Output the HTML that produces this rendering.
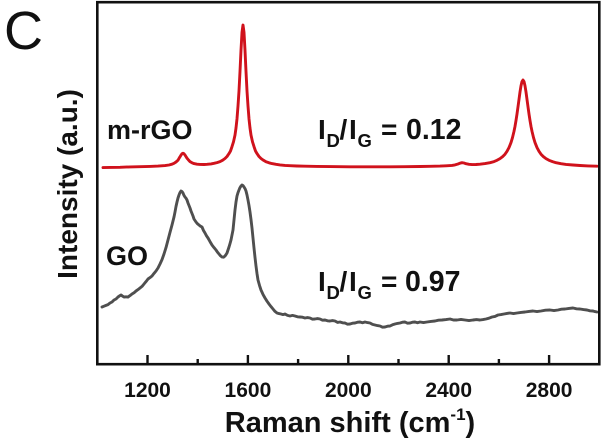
<!DOCTYPE html>
<html>
<head>
<meta charset="utf-8">
<style>
  html, body { margin: 0; padding: 0; background: #ffffff; }
  body { width: 602px; height: 444px; overflow: hidden; }
  svg { display: block; }
  text { font-family: "Liberation Sans", Arial, sans-serif; fill: #111; }
</style>
</head>
<body>
<svg width="602" height="444" viewBox="0 0 602 444" xmlns="http://www.w3.org/2000/svg">
  <rect x="0" y="0" width="602" height="444" fill="#ffffff"/>

  <!-- Panel letter -->
  <text x="4" y="49" font-size="54" font-weight="400">C</text>

  <!-- GO spectrum (gray) -->
  <polyline fill="none" stroke="#4f4f4f" stroke-width="2.9" stroke-linejoin="round" stroke-linecap="round"
    points="102,307 104,306.2 106,305.4 108,304.6 110,303 112,302 114,300 116,299 118,297 120,295.6 121,295 123,296.4 124,297 126,296.8 128,297 130,295.6 132,294 134,292.8 136,291 138,289.6 140,288 142,286.4 144,284 146,281.6 148,279 150,277.6 152,276 154,273.4 156,271 158,268 160,264 162,259.6 164,254 166,247.6 168,240 170,232.4 172,225 174,217 175,212 176,206.5 177,202 178,198 179,195 180,192.5 181,191 182,191.6 183,193 184,195.4 185,197 186,198.2 187,200 188,203 190,208 191,211 193,216 194,219 196,222 197.5,223.8 199,225 200.5,226.2 202,227 203.5,230.5 205,233 206.5,235.8 208,238 210,241.6 212,245 214,247.6 216,250 217.5,252.2 219,254 220.5,255.8 222,257 223.5,257.2 225,256 226,254.6 227,253 228,250 229,247 230,243.6 231,240 232,235 233,230 234,220 235,210 236,202 237,196 238,192.6 239,190 240,187.6 241,186 242,185 243,185.6 244,187 245,188.6 246,191 247,195 248,200 249,205.5 250,212 251,219.5 252,228 253,238 254,248 255,257.4 256,266 257,273.6 258,280 259.5,285.4 261,290 263,294.4 265,298 267,301.2 269,304 271,306.6 273,309 275,311.4 277,313 279,313.6 281,314 283,314.6 285,314 287.5,315.4 290,316 292.5,315.4 295,316 297.5,316.8 300,317 302.5,317.2 305,318 307.5,317.6 310,318 312.5,319.2 315,319 317.5,318.6 320,319 322.5,320.2 325,320 327.5,320.8 330,321 332.5,320.6 335,321 337.5,322.4 340,322 342.5,322.8 345,323 347.5,324.2 350,324 352.5,323.2 355,323 357.5,322.2 360,322 362.5,322.8 365,322 367.5,322.6 370,323 372.5,324.4 375,325 377.5,325.6 380,326 382.5,327.2 385,327 387.5,326.2 390,326 392.5,324.8 395,324 397.5,323.4 400,323 402.5,322.2 405,322 407.5,323.2 410,323 412.5,322.2 415,322 417.5,322.8 420,322 423.5,322.6 427,322 431,321.4 435,321 438.5,320.2 442,320 446,319.6 450,319 453.5,320 457,320 461,319.4 465,320 469,320.6 473,320 476.5,319.6 480,320 483,319.6 486,319 489,318.2 492,317 495,316.4 498,315 501,314.6 504,314 507,313.4 510,313 513.5,313.6 517,313 521,312.4 525,312 529,311.4 533,311 537,311.6 541,311 545.5,310.2 550,310 554,310.6 558,310 561.5,309.2 565,309 569,308.4 573,308 576.5,308.8 580,309 583.5,309.6 587,310 590,310.8 593,311 595,311.6 597,312"/>

  <!-- m-rGO spectrum (red) -->
  <polyline fill="none" stroke="#d0121c" stroke-width="2.9" stroke-linejoin="round" stroke-linecap="round"
    points="103,167.6 110,167.4 120,167.3 130,166.9 140,166.7 150,166.4 158,166.1 165,165.6 169,165 172,164.2 174,163.3 176,162 178,160.2 179,158.4 180,156.8 181,155.1 182,153.8 183,153.2 184,153.8 185,155 186,156.6 187,158.2 188.5,160 190,161.6 192,162.8 194,163.6 197,164.2 200,164.4 204,164.5 207,164.3 211,163.9 214,163.3 217,162.6 220,161.6 222.5,160.3 225,158.5 227,156.5 229,153.6 230.5,151 232,146.6 233.5,141.8 235,135.1 236,128 237,118.8 238,106 239,90.9 240,71.5 241,50.2 242,32.3 243,25 244,32.3 245,50.2 246,71.5 247,90.9 248,106 249,118.8 250,128 251,135.1 252.5,141.8 254,146.6 255.5,151 257,153.6 259,156.5 261,158.5 263.5,160.3 266,161.8 269,162.8 272,163.6 276,164.3 280,164.9 285,165.4 290,165.7 297,166 305,166.2 317,166.4 330,166.6 350,166.8 370,166.8 390,166.8 405,166.7 420,166.5 430,166.3 440,166.1 446,165.8 452,165.4 455,164.9 458,164 460,163.2 462,162.7 464,163 466,163.7 469,164.3 472,164.6 476,164.5 480,164.2 485,163.6 490,162.7 494,161.6 497,160.3 500,158.6 503,156.3 505,154.2 507,151.3 509,147.6 511,142.6 512.5,137.6 514,131.3 515,126.4 516,120.5 517,114 518,106.8 519,99.4 520,92 521,85.8 522,81.5 523,80 524,81.5 525,85.8 526,92 527,99.4 528,106.8 529,114 530,120.5 531,126.4 532,131.3 533.5,137.6 535,142.6 537,147.6 539,151.3 541,154.2 543,156.3 546,158.6 549,160.3 552.5,161.6 556,162.7 561,163.7 566,164.4 573,165 580,165.5 588,165.9 597,166.2"/>

  <!-- Axes frame -->
  <rect x="97.3" y="2.2" width="502" height="362" fill="none" stroke="#111" stroke-width="2.6"/>

  <!-- Ticks (inward) -->
  <g stroke="#111" stroke-width="2.4">
    <line x1="147.5" y1="364" x2="147.5" y2="355"/>
    <line x1="197.7" y1="364" x2="197.7" y2="359"/>
    <line x1="247.9" y1="364" x2="247.9" y2="355"/>
    <line x1="298.1" y1="364" x2="298.1" y2="359"/>
    <line x1="348.3" y1="364" x2="348.3" y2="355"/>
    <line x1="398.5" y1="364" x2="398.5" y2="359"/>
    <line x1="448.7" y1="364" x2="448.7" y2="355"/>
    <line x1="498.9" y1="364" x2="498.9" y2="359"/>
    <line x1="549.1" y1="364" x2="549.1" y2="355"/>
  </g>

  <!-- Tick labels -->
  <g font-size="21" font-weight="700" text-anchor="middle">
    <text x="147.5" y="397">1200</text>
    <text x="247.9" y="397">1600</text>
    <text x="348.3" y="397">2000</text>
    <text x="448.7" y="397">2400</text>
    <text x="549.1" y="397">2800</text>
  </g>

  <!-- X axis title -->
  <text x="350" y="432" font-size="29" font-weight="700" text-anchor="middle">Raman shift (cm<tspan font-size="17" dy="-12">-1</tspan><tspan dy="12">)</tspan></text>

  <!-- Y axis title -->
  <text transform="translate(77,184) rotate(-90)" x="0" y="0" font-size="28" font-weight="700" text-anchor="middle">Intensity (a.u.)</text>

  <!-- Series labels -->
  <text x="107" y="139" font-size="27" font-weight="700">m-rGO</text>
  <text x="106" y="265" font-size="27" font-weight="700">GO</text>

  <!-- Ratio annotations -->
  <g font-weight="700">
    <text x="318" y="139" font-size="28">I</text>
    <text x="326.5" y="147" font-size="18.5">D</text>
    <text x="339.5" y="139" font-size="28">/</text>
    <text x="349" y="139" font-size="28">I</text>
    <text x="357.5" y="147" font-size="18.5">G</text>
    <text x="381" y="139" font-size="28">=</text>
    <text x="406" y="139" font-size="28.5">0.12</text>

    <text x="318" y="291" font-size="28">I</text>
    <text x="326.5" y="299" font-size="18.5">D</text>
    <text x="339.5" y="291" font-size="28">/</text>
    <text x="349" y="291" font-size="28">I</text>
    <text x="357.5" y="299" font-size="18.5">G</text>
    <text x="381" y="291" font-size="28">=</text>
    <text x="405" y="291" font-size="28.5">0.97</text>
  </g>
</svg>
</body>
</html>
